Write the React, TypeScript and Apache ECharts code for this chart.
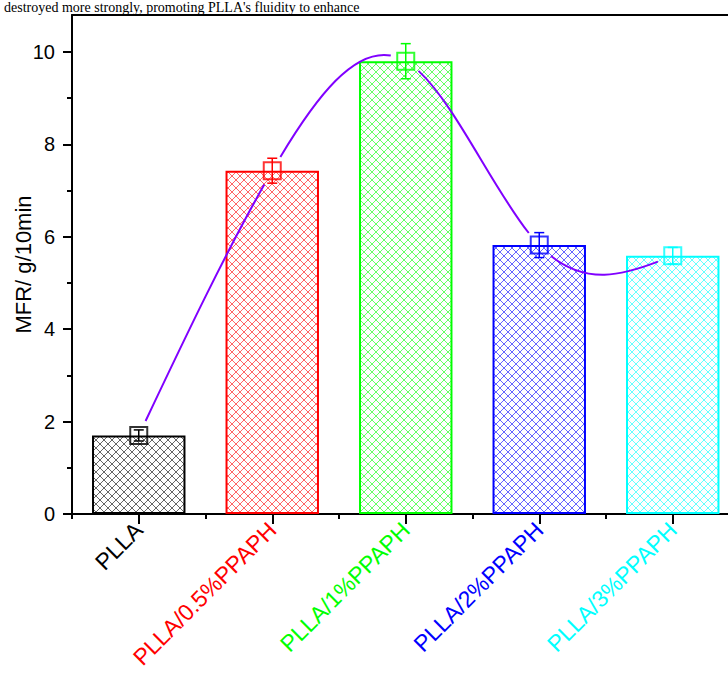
import React, { useEffect, useRef } from "react";
import * as echarts from "echarts";

// Melt flow rate of PLLA and its PPAPH blends
const categories = ["PLLA", "PLLA/0.5%PPAPH", "PLLA/1%PPAPH", "PLLA/2%PPAPH", "PLLA/3%PPAPH"];
const mfrValues = [1.7, 7.43, 9.8, 5.82, 5.59];
const mfrErrors = [0.12, 0.27, 0.38, 0.27, 0.18];
const seriesColors = ["#000000", "#ff0000", "#00ff00", "#0000ff", "#00ffff"];
const majorTicks = [0, 2, 4, 6, 8, 10];
const minorTicks = [1, 3, 5, 7, 9];
const yAxisTitle = "MFR/ g/10min";
const captionText = "destroyed more strongly, promoting PLLA's fluidity to enhance";

const curveColor = "#8000ff";
const FONT = "'Liberation Sans', Arial, sans-serif";

// Cross-hatch fill used inside each bar
function hatch(color: string) {
  const s = 8;
  const c = document.createElement("canvas");
  c.width = s;
  c.height = s;
  const ctx = c.getContext("2d")!;
  ctx.strokeStyle = color;
  ctx.globalAlpha = 0.6;
  ctx.lineWidth = 1;
  ctx.beginPath();
  ctx.moveTo(-1, -1);
  ctx.lineTo(s + 1, s + 1);
  ctx.moveTo(-1, s + 1);
  ctx.lineTo(s + 1, -1);
  ctx.stroke();
  return { image: c, repeat: "repeat" };
}

// Second derivatives of a natural cubic spline on unit spacing
function splineMoments(y: number[]) {
  const n = y.length;
  const M = new Array(n).fill(0);
  if (n < 3) return M;
  const m = n - 2;
  const d: number[] = [];
  for (let i = 1; i < n - 1; i++) d.push(6 * (y[i + 1] - 2 * y[i] + y[i - 1]));
  const cp = new Array(m);
  const dp = new Array(m);
  cp[0] = 1 / 4;
  dp[0] = d[0] / 4;
  for (let i = 1; i < m; i++) {
    const den = 4 - cp[i - 1];
    cp[i] = 1 / den;
    dp[i] = (d[i] - dp[i - 1]) / den;
  }
  const x = new Array(m);
  x[m - 1] = dp[m - 1];
  for (let i = m - 2; i >= 0; i--) x[i] = dp[i] - cp[i] * x[i + 1];
  for (let i = 0; i < m; i++) M[i + 1] = x[i];
  return M;
}

type Pt = number[];
const lerp = (a: Pt, b: Pt, t: number): Pt => [a[0] + (b[0] - a[0]) * t, a[1] + (b[1] - a[1]) * t];
function bez(p: Pt[], t: number): Pt {
  const a = lerp(p[0], p[1], t), b = lerp(p[1], p[2], t), c = lerp(p[2], p[3], t);
  const d = lerp(a, b, t), e = lerp(b, c, t);
  return lerp(d, e, t);
}
function splitRight(p: Pt[], t: number): Pt[] {
  const a = lerp(p[0], p[1], t), b = lerp(p[1], p[2], t), c = lerp(p[2], p[3], t);
  const d = lerp(a, b, t), e = lerp(b, c, t);
  const f = lerp(d, e, t);
  return [f, e, c, p[3]];
}
function splitLeft(p: Pt[], t: number): Pt[] {
  const a = lerp(p[0], p[1], t), b = lerp(p[1], p[2], t), c = lerp(p[2], p[3], t);
  const d = lerp(a, b, t), e = lerp(b, c, t);
  const f = lerp(d, e, t);
  return [p[0], a, d, f];
}
const dist = (a: Pt, b: Pt) => Math.hypot(a[0] - b[0], a[1] - b[1]);
function solveGap(p: Pt[], center: Pt, r: number, fromStart: boolean) {
  let lo = fromStart ? 0 : 0.5;
  let hi = fromStart ? 0.5 : 1;
  for (let k = 0; k < 40; k++) {
    const mid = (lo + hi) / 2;
    const inside = dist(bez(p, mid), center) < r;
    if (fromStart ? inside : !inside) lo = mid;
    else hi = mid;
  }
  return (lo + hi) / 2;
}

export default function App() {
  const ref = useRef<HTMLDivElement>(null);

  useEffect(() => {
    if (!ref.current) return;
    const chart = echarts.init(ref.current, null, { renderer: "svg" });
    const moments = splineMoments(mfrValues);
    const gap = 16;

    const option: any = {
      animation: false,
      backgroundColor: "#ffffff",
      textStyle: { fontFamily: FONT },
      grid: { left: 72, top: 15, width: 667.5, height: 499, outerBoundsMode: "none", containLabel: false },
      graphic: [
        {
          type: "text",
          left: 4,
          top: 0,
          style: {
            text: captionText,
            font: "14px 'Liberation Serif', 'Times New Roman', serif",
            fill: "#000",
          },
        },
      ],
      xAxis: [
        {
          type: "category",
          data: categories,
          position: "bottom",
          offset: 0,
          axisLine: { show: true, lineStyle: { color: "#000", width: 2 } },
          axisTick: { show: true, alignWithLabel: true, length: 10, lineStyle: { width: 2, color: "#000" } },
          axisLabel: {
            rotate: 45,
            fontSize: 23,
            lineHeight: 23,
            margin: 12,
            fontFamily: FONT,
            color: (_v: any, i: number) => seriesColors[i],
          },
          splitLine: { show: false },
        },
        {
          type: "category",
          data: categories,
          position: "bottom",
          offset: 0,
          axisLine: { show: false },
          axisTick: { show: true, length: 5, lineStyle: { width: 2, color: "#000" } },
          axisLabel: { show: false },
          splitLine: { show: false },
        },
        {
          type: "category",
          data: categories,
          position: "top",
          axisLine: { show: true, lineStyle: { color: "#000", width: 2 } },
          axisTick: { show: false },
          axisLabel: { show: false },
          splitLine: { show: false },
        },
      ],
      yAxis: [
        {
          type: "value",
          min: 0,
          max: 10.8,
          interval: 2,
          position: "left",
          name: yAxisTitle,
          nameLocation: "middle",
          nameGap: 38,
          nameMoveOverlap: false,
          nameTextStyle: { fontSize: 22, color: "#000", fontFamily: FONT },
          axisLine: { show: true, lineStyle: { color: "#000", width: 2 } },
          axisTick: { show: true, length: 9, customValues: majorTicks, lineStyle: { width: 2, color: "#000" } },
          axisLabel: { fontSize: 20, color: "#000", margin: 17, customValues: majorTicks, fontFamily: FONT },
          splitLine: { show: false },
        },
        {
          type: "value",
          min: 0,
          max: 10.8,
          interval: 2,
          position: "left",
          offset: 0,
          axisLine: { show: false },
          axisTick: { show: true, length: 5, customValues: minorTicks, lineStyle: { width: 2, color: "#000" } },
          axisLabel: { show: false },
          splitLine: { show: false },
        },
      ],
      series: [
        {
          type: "bar",
          barWidth: "70%",
          z: 2,
          data: mfrValues.map((v, i) => ({
            value: v,
            itemStyle: { color: hatch(seriesColors[i]), borderColor: seriesColors[i], borderWidth: 2 },
          })),
        },
        {
          // smooth spline through the bar tops, broken around each marker
          type: "custom",
          z: 3,
          data: [[0, 0]],
          renderItem: (_p: any, api: any) => {
            const pts: Pt[] = mfrValues.map((v, i) => api.coord([i, v]));
            let d = "";
            for (let i = 0; i < mfrValues.length - 1; i++) {
              const y0 = mfrValues[i], y1 = mfrValues[i + 1];
              const s0 = y1 - y0 - (2 * moments[i] + moments[i + 1]) / 6;
              const s1 = y1 - y0 + (moments[i] + 2 * moments[i + 1]) / 6;
              const c1 = y0 + s0 / 3;
              const c2 = y1 - s1 / 3;
              const P0 = pts[i], P3 = pts[i + 1];
              const dx = P3[0] - P0[0];
              const seg: Pt[] = [
                P0,
                [P0[0] + dx / 3, api.coord([i, c1])[1]],
                [P0[0] + (2 * dx) / 3, api.coord([i, c2])[1]],
                P3,
              ];
              const t0 = solveGap(seg, P0, gap, true);
              const t1 = solveGap(seg, P3, gap, false);
              const right = splitRight(seg, t0);
              const part = splitLeft(right, (t1 - t0) / (1 - t0));
              d += `M${part[0][0]},${part[0][1]}C${part[1][0]},${part[1][1]} ${part[2][0]},${part[2][1]} ${part[3][0]},${part[3][1]}`;
            }
            return {
              type: "path",
              shape: { pathData: d },
              style: { stroke: curveColor, fill: "none", lineWidth: 2 },
            };
          },
        },
        {
          // error bars
          type: "custom",
          z: 4,
          encode: { x: 0, y: [1, 2] },
          data: mfrValues.map((v, i) => [i, v - mfrErrors[i], v + mfrErrors[i]]),
          renderItem: (p: any, api: any) => {
            const i = api.value(0);
            const lo = api.coord([i, api.value(1)]);
            const hi = api.coord([i, api.value(2)]);
            const color = seriesColors[p.dataIndex];
            const half = 5;
            const style = { stroke: color, lineWidth: 1.5 };
            return {
              type: "group",
              children: [
                { type: "line", shape: { x1: lo[0], y1: lo[1], x2: hi[0], y2: hi[1] }, style },
                { type: "line", shape: { x1: hi[0] - half, y1: hi[1], x2: hi[0] + half, y2: hi[1] }, style },
                { type: "line", shape: { x1: lo[0] - half, y1: lo[1], x2: lo[0] + half, y2: lo[1] }, style },
              ],
            };
          },
        },
        {
          type: "scatter",
          z: 5,
          symbol: "rect",
          symbolSize: 17,
          data: mfrValues.map((v, i) => ({
            value: v,
            itemStyle: { color: "rgba(0,0,0,0)", borderColor: seriesColors[i], borderWidth: 2 },
          })),
        },
      ],
    };

    chart.setOption(option);
    return () => chart.dispose();
  }, []);

  return (
    <div
      ref={ref}
      style={{ position: "fixed", left: 0, top: 0, width: 728, height: 675, background: "#fff" }}
    />
  );
}
